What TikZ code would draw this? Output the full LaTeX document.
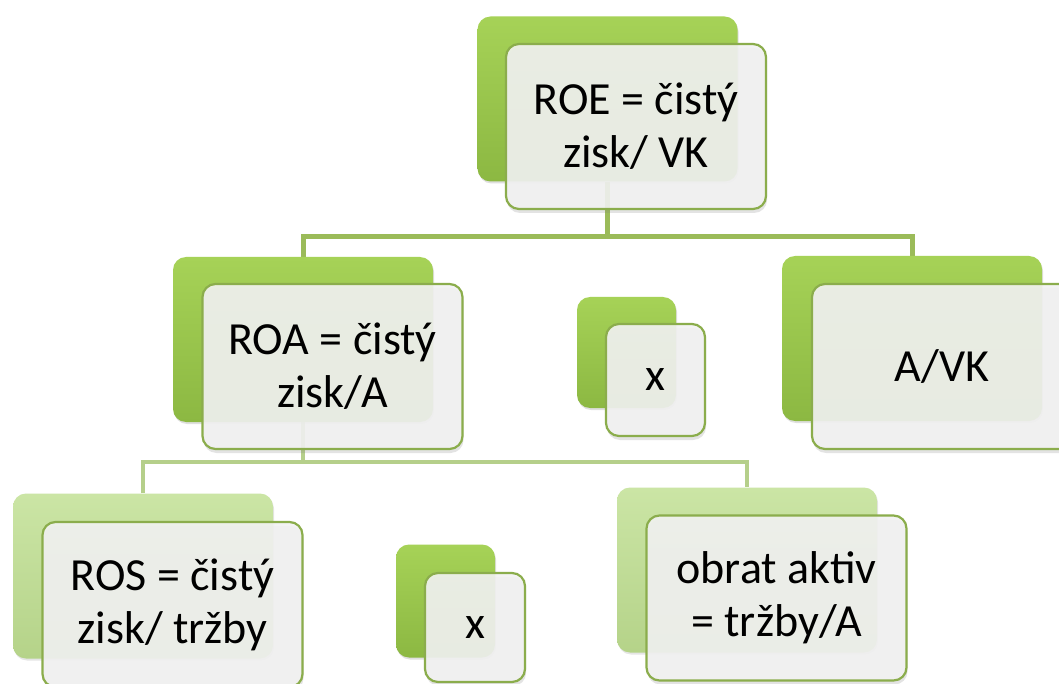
\documentclass[tikz,border=0pt]{standalone}
\usepackage{fontspec}
\setmainfont{Carlito}
\usetikzlibrary{shadows}

\definecolor{bgreenTop}{HTML}{A6D257}
\definecolor{bgreenMid}{HTML}{9CC84B}
\definecolor{bgreenBot}{HTML}{8CB842}
\definecolor{lgreenTop}{HTML}{CBE5A5}
\definecolor{lgreenMid}{HTML}{C2DE98}
\definecolor{lgreenBot}{HTML}{B5D389}
\definecolor{cardEdge}{HTML}{8BAD4C}
\definecolor{cardFill}{HTML}{F2F2F2}
\definecolor{linkDark}{HTML}{9BBB59}
\definecolor{linkLight}{HTML}{B5CF8A}

\pgfdeclarelayer{links}
\pgfsetlayers{links,main}

\tikzset{
  backcard/.style={rounded corners=13pt, inner sep=0pt,
    top color=bgreenTop, middle color=bgreenMid, bottom color=bgreenBot,
    drop shadow={shadow xshift=1pt, shadow yshift=-2pt, opacity=0.25}},
  backcardpale/.style={rounded corners=13pt, inner sep=0pt,
    top color=lgreenTop, middle color=lgreenMid, bottom color=lgreenBot,
    drop shadow={shadow xshift=1pt, shadow yshift=-2pt, opacity=0.2}},
  frontcard/.style={rounded corners=13pt, draw=cardEdge, line width=2.2pt,
    fill=cardFill, fill opacity=0.9, text opacity=1, align=center,
    inner sep=0pt, font=\fontsize{46}{53}\selectfont,
    drop shadow={shadow xshift=1pt, shadow yshift=-4pt, opacity=0.22}},
  bigcard/.style={minimum width=260pt, minimum height=165pt},
  smallcard/.style={minimum width=99pt, minimum height=111pt},
  linkA/.style={draw=linkDark, line width=5pt},
  linkB/.style={draw=linkLight, line width=4pt},
}

\begin{document}
\begin{tikzpicture}[x=1pt, y=-1pt]
\begin{pgfonlayer}{links}
\fill[white] (0,0) rectangle (1059,684);
\end{pgfonlayer}
\useasboundingbox (0,0) rectangle (1059,684);

% junctions of the tree connectors
\coordinate (j1) at (607.5,237);
\coordinate (j2) at (303,462);

% back cards of the tree
\node[backcard, bigcard] (roeB) at (607.5,99) {};
\node[backcard, bigcard] (roaB) at (303,339.5) {};
\node[backcard, bigcard] (avkB) at (912,338.5) {};
\node[backcardpale, bigcard] (rosB) at (143,576) {};
\node[backcardpale, bigcard] (obrB) at (747,570) {};

% connectors, kept behind all cards
\begin{pgfonlayer}{links}
\draw[linkA] (roeB.south) -- (j1);
\draw[linkA] (roaB.north) |- (j1) -| (avkB.north);
\draw[linkB] (roaB.south) -- (j2);
\draw[linkB] (rosB.north) |- (j2) -| (obrB.north);
\end{pgfonlayer}

% front cards
\node[frontcard, bigcard] (roe) at (636,126.5) {ROE = čistý\\zisk/ VK};
\node[frontcard, bigcard] (roa) at (332.5,366.5) {ROA = čistý\\zisk/A};

\node[backcard, smallcard] (mul1B) at (626.5,352.5) {};
\node[frontcard, smallcard, minimum height=112pt] (mul1) at (655.5,380) {x};

\node[frontcard, bigcard] (avk) at (942,366.5) {A/VK};
\node[frontcard, bigcard] (ros) at (172.5,604.5) {ROS = čistý\\zisk/ tržby};

\node[backcard, smallcard, minimum height=113pt] (mul2B) at (445.5,601) {};
\node[frontcard, smallcard, minimum width=100pt, minimum height=109pt] (mul2) at (475,627.5) {x};

\node[frontcard, bigcard] (obr) at (776.5,598) {obrat aktiv\\= tržby/A};
\end{tikzpicture}
\end{document}
